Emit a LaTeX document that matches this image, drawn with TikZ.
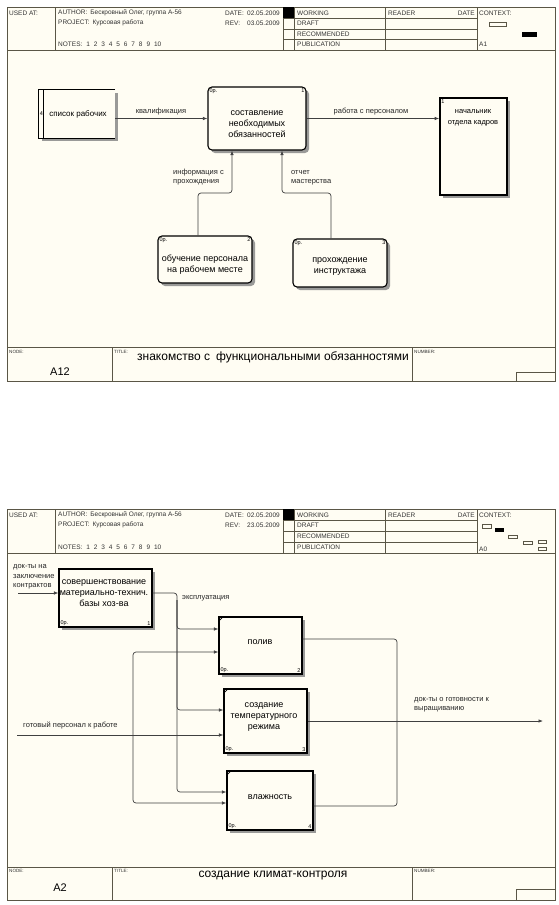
\documentclass[tikz,border=0pt]{standalone}
\usepackage{fontspec}
\setmainfont{Liberation Sans}
\usetikzlibrary{arrows.meta,shadows}
\definecolor{cream}{HTML}{FFFDF3}
\definecolor{framecol}{HTML}{5A5646}
\definecolor{shadowcol}{HTML}{9A9A98}
\newcommand{\nsp}{\hspace{3.9pt}}
\tikzset{
  hdr/.style={font=\fontsize{6.5}{7.5}\selectfont, anchor=west, inner sep=0pt, text=black!80},
  tinylbl/.style={font=\fontsize{4.6}{5.5}\selectfont, inner sep=0pt, text=black!80},
  lbl/.style={font=\fontsize{7.5}{9.5}\selectfont, align=left, anchor=west, inner sep=0pt, text=black!85},
  btxt/.style={font=\fontsize{9}{11}\selectfont, align=center, inner sep=0pt},
  corner/.style={font=\fontsize{5.5}{6}\selectfont, inner sep=0pt},
  fr/.style={draw=framecol, line width=0.7pt},
  act/.style={draw=black, line width=1.1pt, fill=cream, inner sep=0pt,
    drop shadow={shadow xshift=3pt, shadow yshift=-3pt, fill=shadowcol, opacity=1}},
  ract/.style={act, rounded corners=4pt},
  conn/.style={draw=black!75, line width=0.7pt, rounded corners=3pt, -{Latex[length=4.5pt,width=3.5pt]}},
  cline/.style={draw=black!75, line width=0.7pt, rounded corners=3pt},
}
\begin{document}
\begin{tikzpicture}[x=1pt,y=-1pt]
\useasboundingbox (0,0) rectangle (558,905);
\fill[white] (0,0) rectangle (558,905);

% ===================== Diagram 1 =====================
\filldraw[fr, fill=cream] (7,7) rectangle (555,381);
\draw[fr] (7,50) -- (555,50);
\foreach \x in {55,283,294,385,477} \draw[fr] (\x,7) -- (\x,50);
\foreach \y in {18,29,39.5} \draw[fr] (283,\y) -- (477,\y);
\fill[black] (283,7) rectangle (294,18);
\node[hdr] (h1a) at (9,13) {USED AT:};
\node[hdr] (h1b) at (58,13) {AUTHOR:\hspace{3pt}Бескровный Олег, группа А-56};
\node[hdr] (h1c) at (58,23) {PROJECT:\hspace{3pt}Курсовая работа};
\node[hdr] (h1d) at (58,44) {NOTES:\hspace{4pt}1\nsp2\nsp3\nsp4\nsp5\nsp6\nsp7\nsp8\nsp9\nsp10};
\node[hdr] (h1e) at (225,13) {DATE:};
\node[hdr] (h1f) at (247,13) {02.05.2009};
\node[hdr] (h1g) at (225,23) {REV:};
\node[hdr] (h1h) at (247,23) {03.05.2009};
\node[hdr] (h1i) at (297,13) {WORKING};
\node[hdr] (h1j) at (297,23.5) {DRAFT};
\node[hdr] (h1k) at (297,34) {RECOMMENDED};
\node[hdr] (h1l) at (297,44.5) {PUBLICATION};
\node[hdr] (h1m) at (388,13) {READER};
\node[hdr, anchor=east] (h1n) at (475,13) {DATE};
\node[hdr] (h1o) at (479,13) {CONTEXT:};
\node[hdr] (h1p) at (479,44) {A1};
\draw[framecol, line width=0.6pt] (489,22) rectangle (506,26);
\fill[black] (522,32) rectangle (537,37);

% bottom bar
\draw[fr] (7,347) -- (555,347);
\draw[fr] (112,347) -- (112,381);
\draw[fr] (412,347) -- (412,381);
\draw[fr] (516,372) rectangle (555,381);
\node[tinylbl, anchor=west] (n1a) at (9,352) {NODE:};
\node[font=\fontsize{11}{12}\selectfont, inner sep=0pt] (n1b) at (60,372) {A12};
\node[tinylbl, anchor=west] (n1c) at (114,352) {TITLE:};
\node[font=\fontsize{12}{13}\selectfont, anchor=west, inner sep=0pt] (n1d) at (137,357) {знакомство с\hspace{6pt}функциональными обязанностями};
\node[tinylbl, anchor=west] (n1e) at (414,352) {NUMBER:};

% list box (external reference)
\node[minimum width=76pt, minimum height=48pt, inner sep=0pt] (list) at (77,114) {};
\fill[shadowcol] (115,93) rectangle (118,141);
\fill[shadowcol] (42,138) rectangle (118,141);
\draw[black, line width=1.1pt] (list.north east) -- (list.north west) -- (list.south west) -- (list.south east);
\draw[black, line width=0.8pt] ([xshift=5pt]list.north west) -- ([xshift=5pt]list.south west);
\node[corner] (list4) at (41.5,114) {4};
\node[font=\fontsize{8}{10}\selectfont, inner sep=0pt] (listt) at (78,114) {список рабочих};

% main activity
\node[ract, minimum width=98pt, minimum height=63pt] (b1) at (257,118.5) {};
\node[btxt] (b1t) at (257,124) {составление\\необходимых\\обязанностей};
\node[corner, anchor=north west] (b1c) at ([shift={(2pt,-2pt)}]b1.north west) {0р.};
\node[corner, anchor=north east] (b1n) at ([shift={(-2pt,-2pt)}]b1.north east) {1};

% boss box
\node[act, line width=1.6pt, minimum width=67pt, minimum height=97pt] (boss) at (473.5,146.5) {};
\node[corner, anchor=north west] (bossn) at ([shift={(2pt,-2pt)}]boss.north west) {1};
\node[font=\fontsize{7.5}{11}\selectfont, align=center, inner sep=0pt] (bosst) at (473,117.5) {начальник\\отдела кадров};

% activity 2
\node[ract, minimum width=94pt, minimum height=47pt] (b2) at (205,259.5) {};
\node[btxt] (b2t) at (205,265) {обучение персонала\\на рабочем месте};
\node[corner, anchor=north west] (b2c) at ([shift={(2pt,-2pt)}]b2.north west) {0р.};
\node[corner, anchor=north east] (b2n) at ([shift={(-2pt,-2pt)}]b2.north east) {2};

% activity 3
\node[ract, minimum width=94pt, minimum height=48pt] (b3) at (340,263) {};
\node[btxt] (b3t) at (340,267) {прохождение\\инструктажа};
\node[corner, anchor=north west] (b3c) at ([shift={(2pt,-2pt)}]b3.north west) {0р.};
\node[corner, anchor=north east] (b3n) at ([shift={(-2pt,-2pt)}]b3.north east) {3};

% connectors diagram 1
\draw[conn] (b1.west -| list.east) -- (b1.west);
\node[lbl, anchor=center] (l1) at (161,112) {квалификация};
\draw[conn] (b1.east) -- (boss.west |- b1.east);
\node[lbl, anchor=center] (l2) at (371,112) {работа с персоналом};
\coordinate (k1) at (198,193);
\coordinate (k2) at (282,193);
\draw[conn] (b2.north -| k1) -- (k1) -| ([xshift=-25pt]b1.south);
\node[lbl] (l3) at (173,177) {информация с\\прохождения};
\draw[conn] ([xshift=-9pt]b3.north) |- (k2) -- (b1.south -| k2);
\node[lbl] (l4) at (291,178) {отчет\\мастерства};

% ===================== Diagram 2 =====================
\filldraw[fr, fill=cream] (7,509) rectangle (555,900);
\draw[fr] (7,553) -- (555,553);
\foreach \x in {55,283,294,385,477} \draw[fr] (\x,509) -- (\x,553);
\foreach \y in {520,531,542} \draw[fr] (283,\y) -- (477,\y);
\fill[black] (283,509) rectangle (294,520);
\node[hdr] (h2a) at (9,515) {USED AT:};
\node[hdr] (h2b) at (58,515) {AUTHOR:\hspace{3pt}Бескровный Олег, группа А-56};
\node[hdr] (h2c) at (58,525) {PROJECT:\hspace{3pt}Курсовая работа};
\node[hdr] (h2d) at (58,547) {NOTES:\hspace{4pt}1\nsp2\nsp3\nsp4\nsp5\nsp6\nsp7\nsp8\nsp9\nsp10};
\node[hdr] (h2e) at (225,515) {DATE:};
\node[hdr] (h2f) at (247,515) {02.05.2009};
\node[hdr] (h2g) at (225,525) {REV:};
\node[hdr] (h2h) at (247,525) {23.05.2009};
\node[hdr] (h2i) at (297,515) {WORKING};
\node[hdr] (h2j) at (297,525.5) {DRAFT};
\node[hdr] (h2k) at (297,536.5) {RECOMMENDED};
\node[hdr] (h2l) at (297,547.5) {PUBLICATION};
\node[hdr] (h2m) at (388,515) {READER};
\node[hdr, anchor=east] (h2n) at (475,515) {DATE};
\node[hdr] (h2o) at (479,515) {CONTEXT:};
\node[hdr] (h2p) at (479,549) {A0};
\draw[framecol, line width=0.6pt] (482,524) rectangle (491,528);
\fill[black] (495,528) rectangle (504,532);
\draw[framecol, line width=0.6pt] (508,535) rectangle (517,538);
\draw[framecol, line width=0.6pt] (523,541) rectangle (532,544);
\draw[framecol, line width=0.6pt] (538,540) rectangle (546,543);
\draw[framecol, line width=0.6pt] (538,547) rectangle (546,550);

% bottom bar
\draw[fr] (7,867) -- (555,867);
\draw[fr] (112,867) -- (112,900);
\draw[fr] (412,867) -- (412,900);
\draw[fr] (516,889) rectangle (555,900);
\node[tinylbl, anchor=west] (n2a) at (9,871) {NODE:};
\node[font=\fontsize{11}{12}\selectfont, inner sep=0pt] (n2b) at (60,888) {A2};
\node[tinylbl, anchor=west] (n2c) at (114,871) {TITLE:};
\node[font=\fontsize{12}{13}\selectfont, inner sep=0pt] (n2d) at (273,876) {создание климат-контроля};
\node[tinylbl, anchor=west] (n2e) at (414,871) {NUMBER:};

% boxes
\node[act, minimum width=93pt, minimum height=58pt] (c1) at (105.5,598) {};
\node[btxt] (c1t) at (104,593.5) {совершенствование\\материально-технич.\\базы хоз-ва};
\node[corner, anchor=south west] (c1c) at ([shift={(2pt,2pt)}]c1.south west) {0р.};
\node[corner, anchor=south east] (c1n) at ([shift={(-2pt,2pt)}]c1.south east) {1};

\node[act, minimum width=83pt, minimum height=57pt] (B) at (260.5,645.5) {};
\node[btxt] (Bt) at (260,642) {полив};
\node[corner, anchor=south west] (Bc) at ([shift={(2pt,2pt)}]B.south west) {0р.};
\node[corner, anchor=south east] (Bn) at ([shift={(-2pt,2pt)}]B.south east) {2};
\draw[line width=0.7pt] ([yshift=-5pt]B.north west) -- ([xshift=5pt]B.north west);

\node[act, minimum width=83pt, minimum height=64pt] (C) at (265.5,721) {};
\node[btxt] (Ct) at (264,717) {создание\\температурного\\режима};
\node[corner, anchor=south west] (Cc) at ([shift={(2pt,2pt)}]C.south west) {0р.};
\node[corner, anchor=south east] (Cn) at ([shift={(-2pt,2pt)}]C.south east) {3};
\draw[line width=0.7pt] ([yshift=-5pt]C.north west) -- ([xshift=5pt]C.north west);

\node[act, minimum width=86pt, minimum height=59pt] (D) at (270,800.5) {};
\node[btxt] (Dt) at (270,797) {влажность};
\node[corner, anchor=south west] (Dc) at ([shift={(2pt,2pt)}]D.south west) {0р.};
\node[corner, anchor=south east] (Dn) at ([shift={(-2pt,2pt)}]D.south east) {4};
\draw[line width=0.7pt] ([yshift=-5pt]D.north west) -- ([xshift=5pt]D.north west);

% ports
\coordinate (c1o) at ([yshift=5pt]c1.east);
\coordinate (c1i) at ([yshift=5pt]c1.west);
\coordinate (Bi1) at ([yshift=16.5pt]B.west);
\coordinate (Bi2) at ([yshift=-6.5pt]B.west);
\coordinate (Bo) at ([yshift=6.5pt]B.east);
\coordinate (Ci1) at ([yshift=11pt]C.west);
\coordinate (Ci2) at ([yshift=-14pt]C.west);
\coordinate (Di1) at ([yshift=8.5pt]D.west);
\coordinate (Di2) at ([yshift=-2.5pt]D.west);
\coordinate (Do) at ([yshift=-5.5pt]D.east);
\coordinate (eA) at (177,600);
\coordinate (gB) at (133,735);
\coordinate (jC) at (397,721);
\coordinate (in1) at (18,593);
\coordinate (in2) at (17,735);
\coordinate (out1) at (543,721);

% connectors diagram 2
\draw[conn] (in1) -- (c1i);
\node[lbl] (m1) at (13,577) {док-ты на\\заключение\\контрактов};
\draw[conn] (c1o) -| (eA) |- (Di1);
\draw[conn] (eA) |- (Bi1);
\draw[conn] (eA) |- (Ci1);
\node[lbl] (m2) at (182,598) {эксплуатация};
\draw[conn] (in2) -- (Ci2 |- in2);
\draw[conn] (gB) |- (Bi2);
\draw[conn] (gB) |- (Di2);
\node[lbl] (m3) at (23,725) {готовый персонал к работе};
\draw[cline] (Bo) -| (jC);
\draw[cline] (Do) -| (jC);
\draw[conn] (C.east |- jC) -- (out1);
\node[lbl] (m4) at (414,705) {док-ты о готовности к\\выращиванию};
\end{tikzpicture}
\end{document}
